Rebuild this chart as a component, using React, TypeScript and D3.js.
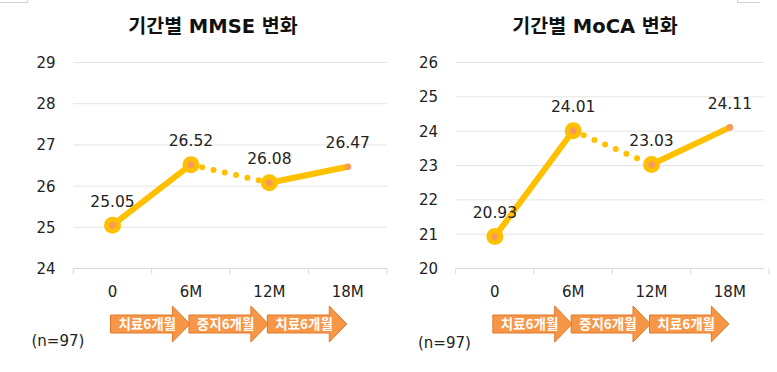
import React from "react";
import * as d3 from "d3";

const categories = ["0", "6M", "12M", "18M"];
const phases = ["치료6개월", "중지6개월", "치료6개월"];
const mmseValues = [25.05, 26.52, 26.08, 26.47];
const mocaValues = [20.93, 24.01, 23.03, 24.11];
const mmseTicks = [24, 25, 26, 27, 28, 29];
const mocaTicks = [20, 21, 22, 23, 24, 25, 26];
const sampleLabel = "(n=97)";

const FONT = "'DejaVu Sans', Verdana, 'Noto Sans CJK KR', sans-serif";
const YELLOW = "#FFC000";
const DOT = "#F79A5A";
const ORANGE = "#F79646";

type ChartProps = {
  title: string;
  values: number[];
  ticks: number[];
  x0: number;
  x1: number;
  gridEnd: number;
  titleX: number;
  labelRight: number;
  nX: number;
  nY: number;
};

function Chart({ title, values, ticks, x0, x1, gridEnd, titleX, labelRight, nX, nY }: ChartProps) {
  const x = d3.scaleBand<string>().domain(categories).range([x0, x1]).padding(0);
  const y = d3
    .scaleLinear()
    .domain([ticks[0], ticks[ticks.length - 1]])
    .range([268.5, 62.5]);
  const cx = (c: string) => (x(c) as number) + x.bandwidth() / 2;
  const pts = values.map((v, i) => [cx(categories[i]), y(v)] as [number, number]);
  const line = d3.line();
  const bigR = 8.5;

  const [a, b] = [pts[1], pts[2]];
  const dx = b[0] - a[0];
  const dy = b[1] - a[1];
  const len = Math.hypot(dx, dy);
  const ux = dx / len;
  const uy = dy / len;
  const dotStart: [number, number] = [a[0] + ux * (bigR + 3), a[1] + uy * (bigR + 3)];
  const dotEnd: [number, number] = [b[0] - ux * (bigR + 2), b[1] - uy * (bigR + 2)];

  const boundaries = [...categories.map((c) => x(c) as number), x1];

  return (
    <g>
      <text
        x={titleX}
        y={33}
        textAnchor="middle"
        fontFamily={FONT}
        fontWeight="bold"
        fontSize={19.5}
        fill="#111"
      >
        {title}
      </text>
      {ticks.map((t) => (
        <g key={t}>
          <line
            x1={x0}
            x2={gridEnd}
            y1={y(t)}
            y2={y(t)}
            stroke={t === ticks[0] ? "#d9d9d9" : "#e4e4e4"}
            strokeWidth={1}
          />
          <text
            x={labelRight}
            y={y(t)}
            dy="0.36em"
            textAnchor="end"
            fontFamily={FONT}
            fontSize={15}
            fill="#222"
          >
            {t}
          </text>
        </g>
      ))}
      {boundaries.map((bx, i) => (
        <line key={i} x1={bx} x2={bx} y1={y(ticks[0])} y2={y(ticks[0]) + 6} stroke="#d9d9d9" />
      ))}
      {categories.map((c) => (
        <text
          key={c}
          x={cx(c)}
          y={297}
          textAnchor="middle"
          fontFamily={FONT}
          fontSize={15}
          fill="#222"
        >
          {c}
        </text>
      ))}
      <path d={line([pts[0], pts[1]]) || ""} stroke={YELLOW} strokeWidth={6} fill="none" strokeLinecap="round" />
      <path d={line([pts[2], pts[3]]) || ""} stroke={YELLOW} strokeWidth={6} fill="none" strokeLinecap="round" />
      <path
        d={line([dotStart, dotEnd]) || ""}
        stroke={YELLOW}
        strokeWidth={6}
        fill="none"
        strokeLinecap="round"
        strokeDasharray="0 11.6"
      />
      {pts.map((p, i) => (
        <g key={i}>
          {i < 3 && <circle cx={p[0]} cy={p[1]} r={bigR} fill={YELLOW} />}
          <circle cx={p[0]} cy={p[1]} r={i < 3 ? 3.5 : 3.3} fill={DOT} />
          <text
            x={p[0]}
            y={p[1] - 18.5}
            textAnchor="middle"
            fontFamily={FONT}
            fontSize={15.5}
            fill="#222"
          >
            {values[i].toFixed(2)}
          </text>
        </g>
      ))}
      {phases.map((ph, i) => {
        const s = cx(categories[i]) - 2;
        const e = cx(categories[i + 1]) - 1;
        const head = 17.5;
        const top = 315;
        const bot = 333;
        const hTop = 306;
        const hBot = 342;
        const mid = (hTop + hBot) / 2;
        const d = `M${s},${top} L${e - head},${top} L${e - head},${hTop} L${e},${mid} L${e - head},${hBot} L${e - head},${bot} L${s},${bot} Z`;
        return (
          <g key={i}>
            <path d={d} fill={ORANGE} stroke="#E0782A" strokeWidth={1} />
            <text
              x={(s + e - 6) / 2}
              y={mid}
              dy="0.36em"
              textAnchor="middle"
              fontFamily="'Noto Sans CJK KR', sans-serif"
              fontWeight="bold"
              fontSize={13.5}
              fill="#fff"
            >
              {ph}
            </text>
          </g>
        );
      })}
      <text x={nX} y={nY} fontFamily={FONT} fontSize={15} fill="#222">
        {sampleLabel}
      </text>
    </g>
  );
}

export default function App() {
  return (
    <svg
      width={777}
      height={372}
      style={{ position: "absolute", left: 0, top: 0, background: "#fff" }}
    >
      <rect x={0} y={0} width={777} height={372} fill="#fff" />
      <path d="M0,2.5 L27.5,2.5 L27.5,0" stroke="#cfcfcf" fill="none" />
      <path d="M737.5,0 L737.5,2.5 L760,2.5" stroke="#cfcfcf" fill="none" />
      <Chart
        title="기간별 MMSE 변화"
        values={mmseValues}
        ticks={mmseTicks}
        x0={73.3}
        x1={387}
        gridEnd={387}
        titleX={213}
        labelRight={55.5}
        nX={31.5}
        nY={346}
      />
      <Chart
        title="기간별 MoCA 변화"
        values={mocaValues}
        ticks={mocaTicks}
        x0={455.7}
        x1={769}
        gridEnd={764}
        titleX={595}
        labelRight={438}
        nX={418}
        nY={348}
      />
    </svg>
  );
}
